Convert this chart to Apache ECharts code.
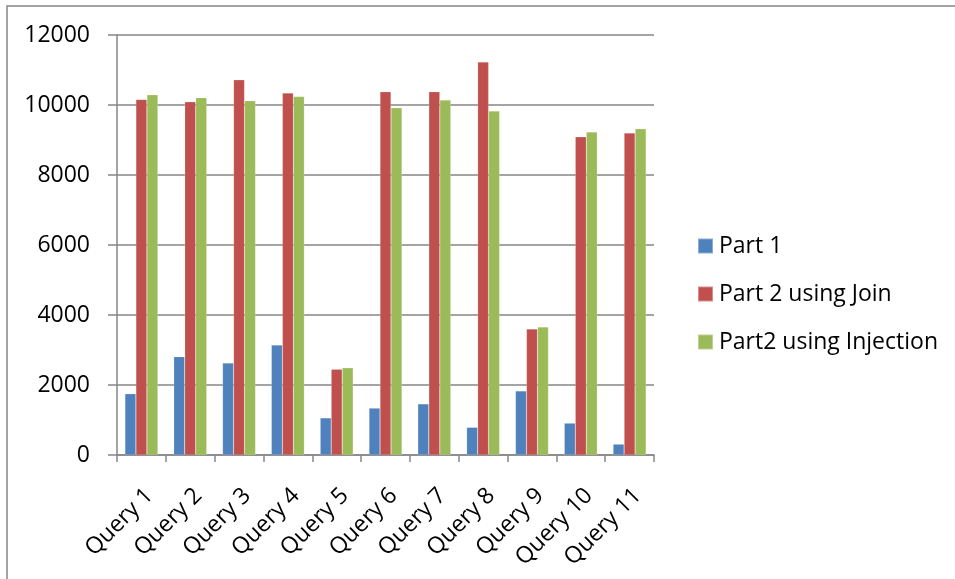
<!DOCTYPE html>
<html>
<head>
<meta charset="utf-8">
<script src="https://cdn.jsdelivr.net/npm/echarts@6/dist/echarts.min.js"></script>
<style>
  html, body { margin: 0; padding: 0; background: #fff; }
  #chart { width: 955px; height: 579px; }
</style>
</head>
<body>
<div id="chart"></div>
<script>
// Query run times for the three implementations
const categories = ['Query 1', 'Query 2', 'Query 3', 'Query 4', 'Query 5', 'Query 6',
                    'Query 7', 'Query 8', 'Query 9', 'Query 10', 'Query 11'];
const part1 = [1750, 2810, 2630, 3140, 1060, 1340, 1460, 790, 1830, 910, 310];
const part2Join = [10160, 10090, 10720, 10340, 2450, 10380, 10380, 11230, 3600, 9090, 9200];
const part2Injection = [10290, 10210, 10120, 10240, 2490, 9920, 10140, 9830, 3660, 9230, 9320];
const seriesNames = ['Part 1', 'Part 2 using Join', 'Part2 using Injection'];
const yTicks = { min: 0, max: 12000, interval: 2000 };

const FONT = '"Open Sans", "Noto Sans", sans-serif';
const AXIS = '#868686';

const chart = echarts.init(document.getElementById('chart'), null, { renderer: 'canvas' });

const makeBar = (name, data, color) => ({
  name,
  type: 'bar',
  data,
  barWidth: 11,
  barGap: '0%',
  itemStyle: { color, borderColor: 'rgba(255,255,255,0.35)', borderWidth: 0.5 },
  emphasis: { disabled: true }
});

chart.setOption({
  animation: false,
  backgroundColor: '#fff',
  graphic: [{
    type: 'rect',
    shape: { x: 7, y: 6, width: 1000, height: 700 },
    style: { fill: 'none', stroke: '#868686', lineWidth: 1.5 },
    silent: true
  }],
  grid: { left: 117, right: 301, top: 35, bottom: 124, containLabel: false },
  legend: {
    orient: 'vertical',
    left: 697,
    top: 234,
    padding: 0,
    itemWidth: 15,
    itemHeight: 15,
    itemGap: 24,
    icon: 'rect',
    data: seriesNames,
    textStyle: { fontFamily: FONT, fontSize: 23, color: '#000', lineHeight: 24, padding: [0, 0, 0, 1] },
    selectedMode: false
  },
  xAxis: {
    type: 'category',
    data: categories,
    boundaryGap: true,
    axisLine: { show: true, lineStyle: { color: AXIS, width: 1.5 } },
    axisTick: { show: true, length: 7, lineStyle: { color: AXIS, width: 1.5 } },
    axisLabel: {
      rotate: 45,
      interval: 0,
      margin: 29,
      verticalAlign: 'top',
      fontFamily: FONT,
      fontSize: 23,
      color: '#000'
    },
    splitLine: { show: false }
  },
  yAxis: {
    type: 'value',
    min: yTicks.min,
    max: yTicks.max,
    interval: yTicks.interval,
    axisLine: { show: true, lineStyle: { color: AXIS, width: 1.5 } },
    axisTick: { show: true, length: 9, lineStyle: { color: AXIS, width: 1.5 } },
    axisLabel: {
      margin: 27,
      fontFamily: FONT,
      fontSize: 23,
      color: '#000',
      formatter: (v) => String(v)
    },
    splitLine: { show: true, lineStyle: { color: AXIS, width: 1.5 } }
  },
  series: [
    makeBar(seriesNames[0], part1, '#4F81BD'),
    makeBar(seriesNames[1], part2Join, '#C0504D'),
    makeBar(seriesNames[2], part2Injection, '#9BBB59')
  ]
});
</script>
</body>
</html>
